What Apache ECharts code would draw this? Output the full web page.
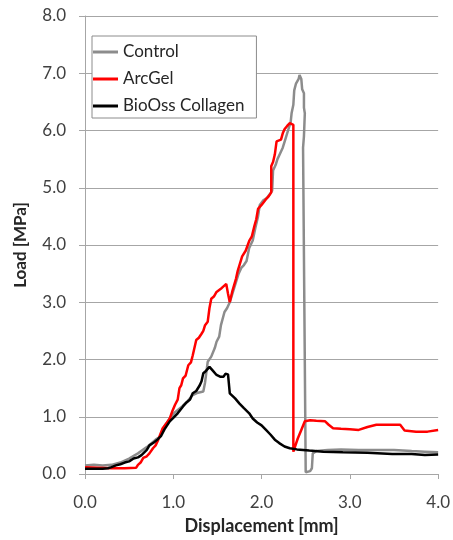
<!DOCTYPE html>
<html>
<head>
<meta charset="utf-8">
<script src="https://cdn.jsdelivr.net/npm/echarts@6/dist/echarts.min.js"></script>
<style>
  html, body { margin: 0; padding: 0; background: #fff; }
  #chart { width: 453px; height: 540px; }
</style>
</head>
<body>
<div id="chart"></div>
<script>
// load vs displacement
const seriesNames = ['Control', 'ArcGel', 'BioOss Collagen']
const seriesColors = ['#8c8c8c', '#ff0000', '#000000']

const control = [
  [0, 0.15], [0.1, 0.16], [0.2, 0.15], [0.3, 0.16], [0.4, 0.2], [0.5, 0.27], [0.6, 0.36],
  [0.7, 0.47], [0.8, 0.6], [0.85, 0.65], [0.88, 0.78], [0.92, 0.88], [0.96, 0.97], [1.02, 1.08],
  [1.1, 1.18], [1.16, 1.27], [1.22, 1.38], [1.28, 1.42], [1.34, 1.44], [1.36, 1.6], [1.39, 1.96],
  [1.43, 2.05], [1.47, 2.2], [1.49, 2.31], [1.52, 2.4], [1.54, 2.6], [1.58, 2.83], [1.61, 2.9],
  [1.64, 3.0], [1.67, 3.15], [1.71, 3.35], [1.74, 3.5], [1.77, 3.6], [1.8, 3.65], [1.83, 3.72],
  [1.86, 3.95], [1.9, 4.08], [1.93, 4.3], [1.96, 4.5], [1.98, 4.7], [2.02, 4.78], [2.06, 4.82],
  [2.09, 4.88], [2.12, 4.95], [2.13, 5.3], [2.16, 5.4], [2.18, 5.5], [2.21, 5.6], [2.24, 5.7],
  [2.27, 5.85], [2.3, 6.0], [2.33, 6.15], [2.34, 6.3], [2.36, 6.45], [2.37, 6.7], [2.39, 6.82],
  [2.4, 6.8], [2.42, 6.9], [2.43, 6.97], [2.45, 6.9], [2.46, 6.72], [2.48, 6.65], [2.48, 6.4],
  [2.49, 6.3], [2.48, 5.9], [2.47, 5.7], [2.5, 0.03], [2.55, 0.05], [2.57, 0.1], [2.58, 0.36],
  [2.62, 0.4], [2.75, 0.42], [2.9, 0.43], [3.1, 0.42], [3.3, 0.42], [3.5, 0.42], [3.7, 0.4],
  [3.85, 0.39], [4.0, 0.38]
]
const arcGel = [
  [0, 0.12], [0.15, 0.11], [0.3, 0.1], [0.45, 0.1], [0.58, 0.11], [0.6, 0.16], [0.63, 0.2],
  [0.66, 0.28], [0.7, 0.31], [0.73, 0.36], [0.77, 0.45], [0.8, 0.5], [0.83, 0.6], [0.85, 0.68],
  [0.88, 0.8], [0.92, 0.88], [0.96, 0.97], [0.99, 1.1], [1.02, 1.21], [1.05, 1.3], [1.07, 1.5],
  [1.09, 1.55], [1.11, 1.67], [1.14, 1.72], [1.17, 1.9], [1.2, 1.95], [1.22, 2.07], [1.24, 2.1],
  [1.26, 2.34], [1.29, 2.38], [1.32, 2.45], [1.34, 2.5], [1.36, 2.6], [1.39, 2.66], [1.41, 2.9],
  [1.43, 3.06], [1.46, 3.1], [1.49, 3.18], [1.55, 3.25], [1.6, 3.32], [1.62, 3.15], [1.64, 3.0],
  [1.67, 3.2], [1.71, 3.41], [1.73, 3.55], [1.75, 3.65], [1.78, 3.8], [1.82, 3.9], [1.86, 4.07],
  [1.89, 4.15], [1.92, 4.34], [1.94, 4.45], [1.96, 4.63], [2.0, 4.7], [2.05, 4.8], [2.08, 4.85],
  [2.11, 4.92], [2.11, 5.38], [2.13, 5.45], [2.15, 5.58], [2.17, 5.81], [2.22, 5.84], [2.24, 5.95],
  [2.26, 6.02], [2.29, 6.08], [2.32, 6.13], [2.36, 6.1], [2.36, 0.39], [2.41, 0.62], [2.45, 0.77],
  [2.49, 0.92], [2.55, 0.94], [2.62, 0.93], [2.72, 0.92], [2.76, 0.86], [2.81, 0.8], [2.9, 0.79],
  [3.0, 0.78], [3.1, 0.77], [3.2, 0.82], [3.3, 0.86], [3.45, 0.86], [3.57, 0.86], [3.62, 0.76],
  [3.75, 0.74], [3.88, 0.74], [4.0, 0.77]
]
const bioOss = [
  [0, 0.09], [0.1, 0.09], [0.2, 0.09], [0.26, 0.1], [0.3, 0.12], [0.35, 0.15], [0.4, 0.17],
  [0.45, 0.2], [0.5, 0.22], [0.55, 0.27], [0.6, 0.29], [0.64, 0.33], [0.7, 0.42], [0.73, 0.5],
  [0.78, 0.55], [0.82, 0.6], [0.86, 0.66], [0.9, 0.78], [0.96, 0.92], [1.0, 0.98], [1.05, 1.06],
  [1.11, 1.18], [1.15, 1.25], [1.19, 1.3], [1.22, 1.41], [1.26, 1.45], [1.3, 1.55], [1.32, 1.62],
  [1.34, 1.76], [1.37, 1.8], [1.41, 1.87], [1.45, 1.8], [1.49, 1.73], [1.53, 1.7], [1.57, 1.7],
  [1.59, 1.75], [1.62, 1.74], [1.64, 1.41], [1.7, 1.32], [1.75, 1.23], [1.8, 1.15], [1.86, 1.06],
  [1.9, 0.97], [1.95, 0.9], [2.0, 0.85], [2.05, 0.77], [2.1, 0.69], [2.15, 0.6], [2.2, 0.54],
  [2.26, 0.48], [2.32, 0.45], [2.4, 0.43], [2.54, 0.41], [2.7, 0.39], [2.92, 0.38], [3.2, 0.37],
  [3.48, 0.35], [3.7, 0.35], [3.85, 0.33], [4.0, 0.34]
]
const seriesData = [control, arcGel, bioOss]

const font = 'Lato, "Liberation Sans", sans-serif'
const gridGray = '#a6a6a6'

const chart = echarts.init(document.getElementById('chart'))
chart.setOption({
  animation: false,
  backgroundColor: '#fff',
  grid: { left: 85, right: 14, top: 16, bottom: 64 },
  legend: {
    orient: 'vertical',
    left: 92,
    top: 36,
    padding: [7, 12, 3, 1],
    itemGap: 9,
    itemWidth: 25,
    itemHeight: 3,
    icon: 'rect',
    borderColor: '#8c8c8c',
    borderWidth: 1,
    backgroundColor: '#fff',
    textStyle: { fontFamily: font, fontSize: 17, color: '#262626', lineHeight: 18 },
    data: seriesNames
  },
  xAxis: {
    type: 'value',
    min: 0, max: 4, interval: 1,
    name: 'Displacement [mm]',
    nameLocation: 'middle',
    nameGap: 43,
    nameTextStyle: { fontFamily: font, fontSize: 18, fontWeight: 'bold', color: '#262626' },
    axisLine: { lineStyle: { color: gridGray, width: 1 } },
    axisTick: { show: true, length: 5, lineStyle: { color: gridGray } },
    splitLine: { show: false },
    axisLabel: {
      margin: 20,
      fontFamily: font, fontSize: 17, color: '#404040',
      formatter: v => v.toFixed(1)
    }
  },
  yAxis: {
    type: 'value',
    min: 0, max: 8, interval: 1,
    name: 'Load [MPa]',
    nameLocation: 'middle',
    nameGap: 56,
    nameTextStyle: { fontFamily: font, fontSize: 17, fontWeight: 'bold', color: '#262626' },
    axisLine: { show: true, lineStyle: { color: gridGray, width: 1 } },
    axisTick: { show: true, length: 6, lineStyle: { color: gridGray } },
    splitLine: { show: true, lineStyle: { color: gridGray, width: 1 } },
    axisLabel: {
      margin: 19,
      fontFamily: font, fontSize: 17, color: '#404040',
      formatter: v => v.toFixed(1)
    }
  },
  series: seriesNames.map((name, i) => ({
    name,
    type: 'line',
    data: seriesData[i],
    showSymbol: false,
    symbol: 'none',
    lineStyle: { color: seriesColors[i], width: 2.5 },
    itemStyle: { color: seriesColors[i] }
  }))
})
</script>
</body>
</html>
